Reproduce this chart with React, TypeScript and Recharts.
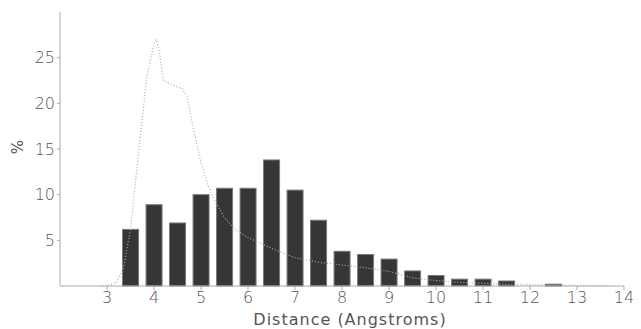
import React from 'react';
import { ComposedChart, Bar, Line, XAxis, YAxis } from 'recharts';

const barX = [3.5, 4.0, 4.5, 5.0, 5.5, 6.0, 6.5, 7.0, 7.5, 8.0, 8.5, 9.0, 9.5, 10.0, 10.5, 11.0, 11.5, 12.0, 12.5];
const barPct = [6.2, 8.9, 6.9, 10.0, 10.7, 10.7, 13.8, 10.5, 7.2, 3.8, 3.45, 2.95, 1.65, 1.15, 0.75, 0.75, 0.55, 0, 0.2];

const lineX = [2.9, 3.0, 3.2, 3.35, 3.5, 3.7, 3.85, 4.0, 4.05, 4.12, 4.2, 4.4, 4.6, 4.7, 4.85, 5.0, 5.15, 5.3, 5.5, 5.7, 6.0, 6.3, 6.6, 7.0, 7.5, 8.0, 8.5, 9.0, 9.5, 10.0, 10.5, 11.0, 11.5, 12.0, 12.5, 13.0, 13.7];
const linePct = [0, 0, 0.4, 2, 6.2, 16, 23, 26.5, 27, 25.5, 22.5, 22, 21.6, 20.8, 17, 13.5, 11, 9.3, 7.5, 6.3, 5.3, 4.6, 3.9, 3.1, 2.6, 2.3, 2.0, 1.6, 0.9, 0.6, 0.4, 0.3, 0.2, 0.15, 0.1, 0.05, 0];

const xTicks = [3, 4, 5, 6, 7, 8, 9, 10, 11, 12, 13, 14];
const yTicks = [5, 10, 15, 20, 25];

const barData = barX.map((x, i) => ({ x, bar: barPct[i] }));
const lineData = lineX.map((x, i) => ({ x, line: linePct[i] }));

const tickStyle = { fill: '#555', fontSize: 16, fontFamily: 'DejaVu Sans', fontWeight: 300 };

const BAR_W = 16;

const BarShape = (props: any) => {
  const { x, y, width, height } = props;
  if (!height || height <= 0) return null;
  const cx = x + width / 2;
  return (
    <rect
      x={cx - BAR_W / 2}
      y={y}
      width={BAR_W}
      height={height}
      fill="#363636"
      stroke="#7a7a7a"
      strokeWidth={1}
    />
  );
};

const XLabel = (props: any) => {
  const vb = props.viewBox || {};
  return (
    <text
      x={vb.x + vb.width / 2 + 8}
      y={325}
      textAnchor="middle"
      fill="#555"
      fontSize={16}
      letterSpacing={1}
      fontFamily="DejaVu Sans"
    >
      Distance (Angstroms)
    </text>
  );
};

const YLabel = () => (
  <text x={18} y={147} textAnchor="middle" fill="#555" fontSize={15} fontFamily="DejaVu Sans" transform="rotate(-90 18 147)" dominantBaseline="central">
    %
  </text>
);

export default function App() {
  return (
    <div style={{ position: 'absolute', left: 0, top: 0, width: 641, height: 329, background: '#fff' }}>
      <ComposedChart width={641} height={329} data={barData} margin={{ top: 12, right: 17, bottom: 0, left: 0 }}>
        <XAxis
          dataKey="x"
          type="number"
          domain={[2, 14]}
          ticks={xTicks}
          interval={0}
          stroke="#aaa"
          tickSize={4}
          tick={tickStyle}
          height={43}
          label={<XLabel />}
        />
        <YAxis
          type="number"
          domain={[0, 30]}
          ticks={yTicks}
          interval={0}
          stroke="#aaa"
          tickSize={3}
          width={60}
          tick={tickStyle}
          label={<YLabel />}
        />
        <Bar dataKey="bar" shape={<BarShape />} isAnimationActive={false} />
        <Line
          data={lineData}
          dataKey="line"
          type="linear"
          stroke="#aaa"
          strokeWidth={1.2}
          strokeDasharray="1 2"
          dot={false}
          isAnimationActive={false}
        />
      </ComposedChart>
    </div>
  );
}
